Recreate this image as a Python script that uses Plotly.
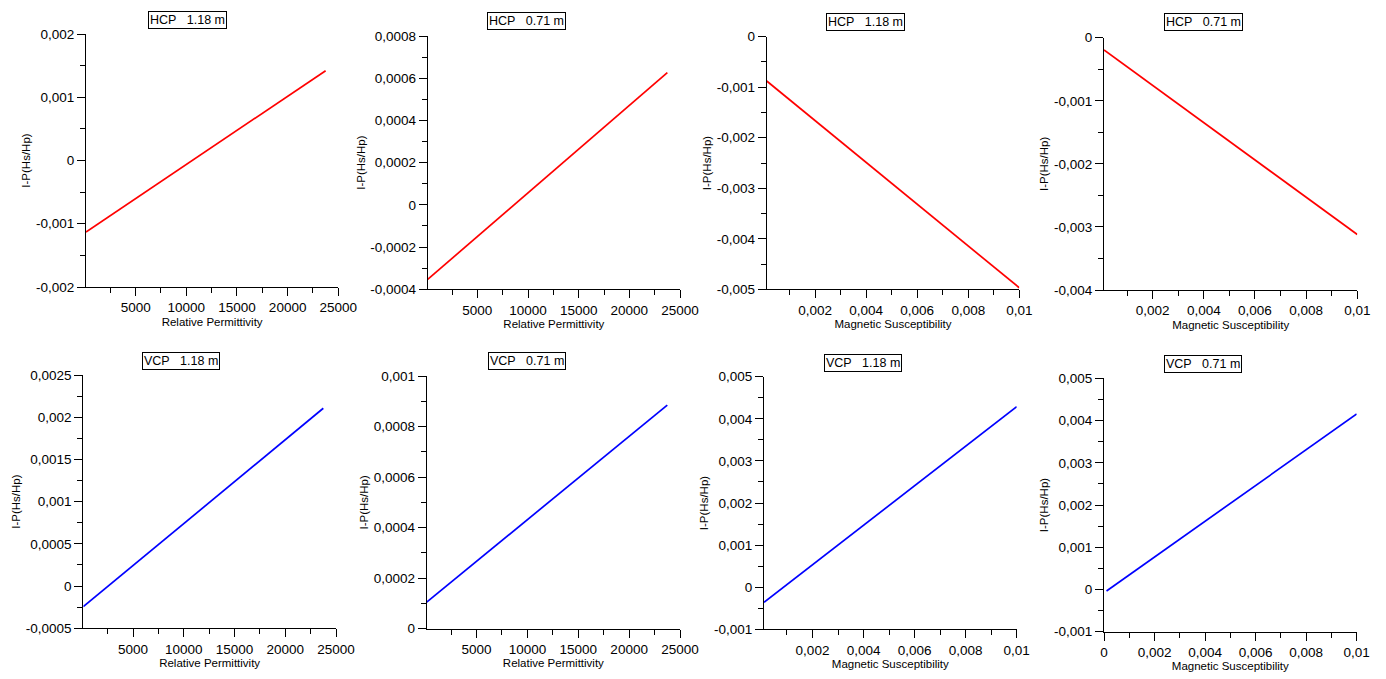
import plotly.graph_objects as go

W, H = 1386, 679

# ---------------- data ----------------
perm_x = [100, 23750]
sus_x = [0.0001, 0.01]

hcp118_perm_y = [-0.00113, 0.00142]
hcp071_perm_y = [-0.000353, 0.000626]
hcp118_sus_y = [-0.000877, -0.00497]
hcp071_sus_y = [-0.000195, -0.00312]
vcp118_perm_y = [-0.000244, 0.002106]
vcp071_perm_y = [0.000105, 0.000885]
vcp118_sus_y = [-0.000359, 0.004287]
vcp071_sus_y = [-0.000036, 0.004155]

panel_titles = ["HCP\u00a0\u00a0\u00a01.18 m", "HCP\u00a0\u00a0\u00a00.71 m",
                "HCP\u00a0\u00a0\u00a01.18 m", "HCP\u00a0\u00a0\u00a00.71 m",
                "VCP\u00a0\u00a0\u00a01.18 m", "VCP\u00a0\u00a0\u00a00.71 m",
                "VCP\u00a0\u00a0\u00a01.18 m", "VCP\u00a0\u00a0\u00a00.71 m"]

perm_tickvals = [0, 5000, 10000, 15000, 20000, 25000]
perm_ticktext = ["0", "5000", "10000", "15000", "20000", "25000"]
sus_tickvals = [0, 0.002, 0.004, 0.006, 0.008, 0.01]
sus_ticktext = ["0", "0,002", "0,004", "0,006", "0,008", "0,01"]

y1_vals = [-0.002, -0.001, 0, 0.001, 0.002]
y1_text = ["-0,002", "-0,001", "0", "0,001", "0,002"]
y2_vals = [-0.0004, -0.0002, 0, 0.0002, 0.0004, 0.0006, 0.0008]
y2_text = ["-0,0004", "-0,0002", "0", "0,0002", "0,0004", "0,0006", "0,0008"]
y3_vals = [-0.005, -0.004, -0.003, -0.002, -0.001, 0]
y3_text = ["-0,005", "-0,004", "-0,003", "-0,002", "-0,001", "0"]
y4_vals = [-0.004, -0.003, -0.002, -0.001, 0]
y4_text = ["-0,004", "-0,003", "-0,002", "-0,001", "0"]
y5_vals = [-0.0005, 0, 0.0005, 0.001, 0.0015, 0.002, 0.0025]
y5_text = ["-0,0005", "0", "0,0005", "0,001", "0,0015", "0,002", "0,0025"]
y6_vals = [0, 0.0002, 0.0004, 0.0006, 0.0008, 0.001]
y6_text = ["0", "0,0002", "0,0004", "0,0006", "0,0008", "0,001"]
y7_vals = [-0.001, 0, 0.001, 0.002, 0.003, 0.004, 0.005]
y7_text = ["-0,001", "0", "0,001", "0,002", "0,003", "0,004", "0,005"]

x_perm_title = "Relative Permittivity"
x_sus_title = "Magnetic Susceptibility"
y_title = "I-P(Hs/Hp)"

# ---------------- panels ----------------
RED, BLUE = "#ff0000", "#0000ff"
panels = [
    # x data, y data, color, x kind, x range, y vals, y text, y minor, box(l,r,t,b), title center
    (perm_x, hcp118_perm_y, RED, "perm", [100, 25000], y1_vals, y1_text, 0.0005,
     (86, 338.3, 34, 287), (187.7, 19.5)),
    (perm_x, hcp071_perm_y, RED, "perm", [100, 25000], y2_vals, y2_text, 0.0001,
     (427.7, 680, 36, 289.3), (526.2, 20.8)),
    (sus_x, hcp118_sus_y, RED, "sus", [0.0001, 0.01], y3_vals, y3_text, 0.0005,
     (766.7, 1019.3, 36.7, 289.3), (865.8, 22.5)),
    (sus_x, hcp071_sus_y, RED, "sus", [0.0001, 0.01], y4_vals, y4_text, 0.0005,
     (1104, 1357.3, 37.7, 290), (1203.3, 21.8)),
    (perm_x, vcp118_perm_y, BLUE, "perm", [100, 25000], y5_vals, y5_text, 0.00025,
     (83.3, 336, 375, 628.3), (181.3, 360.5)),
    (perm_x, vcp071_perm_y, BLUE, "perm", [100, 25000], y6_vals, y6_text, 0.0001,
     (426.7, 680, 376, 628.7), (527.2, 361.2)),
    (sus_x, vcp118_sus_y, BLUE, "sus", [0.0001, 0.01], y7_vals, y7_text, 0.0005,
     (764, 1016.7, 376.7, 629.3), (863.3, 362.5)),
    (sus_x, vcp071_sus_y, BLUE, "sus", [0, 0.01], y7_vals, y7_text, 0.0005,
     (1104, 1356.7, 378.3, 631.7), (1202.5, 364.2)),
]

FONT = "Liberation Sans, Arial, sans-serif"
fig = go.Figure()
layout = dict(
    width=W, height=H, margin=dict(l=0, r=0, t=0, b=0, autoexpand=False),
    paper_bgcolor="white", plot_bgcolor="white", showlegend=False,
    font=dict(family=FONT, color="black"),
    annotations=[],
)

for i, (xd, yd, col, kind, xr, yv, yt, yminor, box, tc) in enumerate(panels, start=1):
    l, r, t, b = box
    xa = "x" if i == 1 else f"x{i}"
    ya = "y" if i == 1 else f"y{i}"
    fig.add_trace(go.Scatter(x=xd, y=yd, mode="lines", line=dict(color=col, width=1.7),
                             xaxis=xa, yaxis=ya, hoverinfo="skip"))
    if kind == "perm":
        tv, tt, xminor, xt = perm_tickvals, perm_ticktext, 2500, x_perm_title
    else:
        tv, tt, xminor, xt = sus_tickvals, sus_ticktext, 0.001, x_sus_title
    common = dict(showgrid=False, zeroline=False, showline=True, linecolor="black",
                  linewidth=1, ticks="outside", ticklen=8, tickwidth=1, tickcolor="black",
                  automargin=False,
                  tickfont=dict(size=13.5, family=FONT, color="black"))
    xkey = "xaxis" if i == 1 else f"xaxis{i}"
    ykey = "yaxis" if i == 1 else f"yaxis{i}"
    layout[xkey] = dict(
        domain=[l / W, r / W], anchor=ya, range=xr,
        tickmode="array", tickvals=tv, ticktext=tt,
        minor=dict(tickmode="linear", tick0=0, dtick=xminor, ticks="outside",
                   ticklen=5, tickcolor="black", tickwidth=1, showgrid=False),
        title=dict(text=xt, font=dict(size=11.5, family=FONT, color="black"), standoff=3),
        **common)
    layout[ykey] = dict(
        domain=[1 - b / H, 1 - t / H], anchor=xa, range=[yv[0], yv[-1]],
        tickmode="array", tickvals=yv, ticktext=yt,
        minor=dict(tickmode="linear", tick0=0, dtick=yminor, ticks="outside",
                   ticklen=5, tickcolor="black", tickwidth=1, showgrid=False),
        title=dict(text=y_title, font=dict(size=11.5, family=FONT, color="black"), standoff=2),
        **common)
    layout["annotations"].append(dict(
        text=panel_titles[i - 1], xref="paper", yref="paper",
        x=tc[0] / W, y=1 - tc[1] / H, xanchor="center", yanchor="middle",
        showarrow=False, font=dict(size=12.5, family=FONT, color="black"),
        bordercolor="black", borderwidth=1, borderpad=1, bgcolor="white"))

fig.update_layout(**layout)
fig.write_html(
    "out.html",
    config={"displayModeBar": False},
    post_script="document.body.style.margin='0';document.body.style.overflow='hidden';",
)
